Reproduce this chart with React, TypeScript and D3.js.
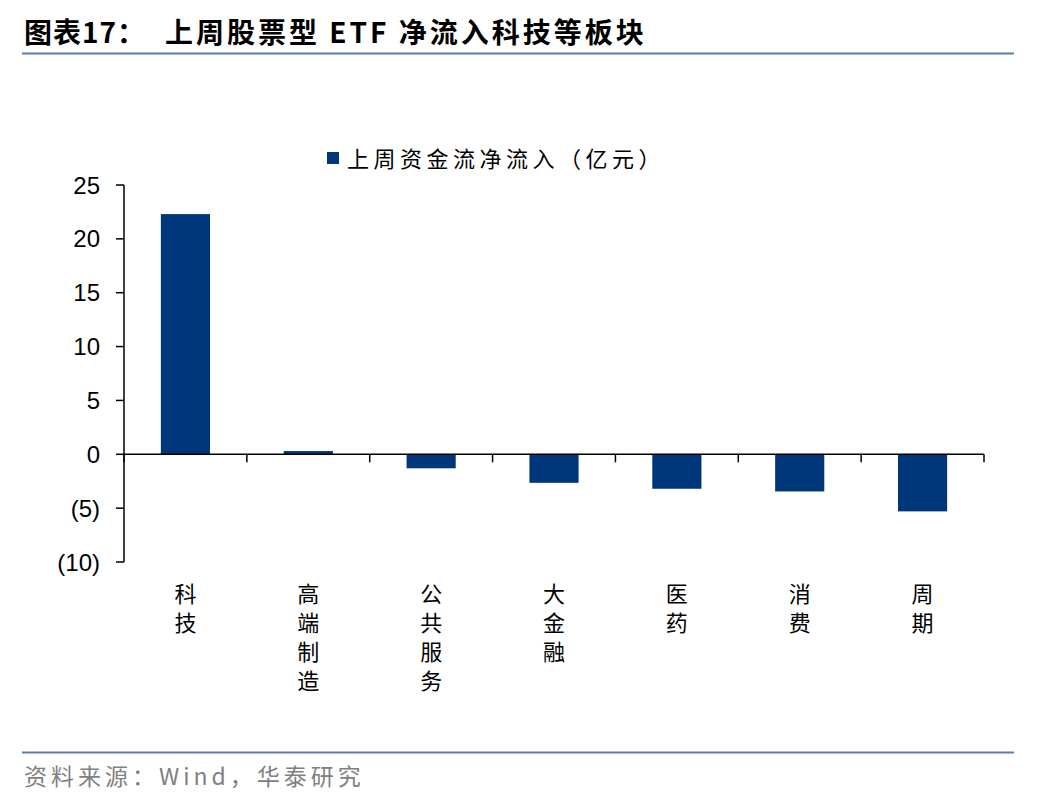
import React from "react";
import * as d3 from "d3";

const categories = ["科技", "高端制造", "公共服务", "大金融", "医药", "消费", "周期"];
const values = [22.3, 0.3, -1.3, -2.65, -3.2, -3.45, -5.3];
const yTicks = [25, 20, 15, 10, 5, 0, -5, -10];
const titleLead = "图表17：";
const titleText = "上周股票型 ETF 净流入科技等板块";
const legendText = "上周资金流净流入（亿元）";
const sourceText = "资料来源：Wind，华泰研究";

const W = 1048;
const H = 800;
const left = 124;
const right = 984;
const barColor = "#00377A";
const ruleColor = "#5A7DAE";
const cjk = "'Noto Sans CJK SC', 'Liberation Sans', sans-serif";
const latin = "'Liberation Sans', Arial, sans-serif";

const fmt = (v: number) => (v < 0 ? `(${Math.abs(v)})` : `${v}`);

export default function App() {
  const y = d3.scaleLinear().domain([-10, 25]).range([562, 185]);
  const x = d3.scaleBand<string>().domain(categories).range([left, right]).paddingInner(0.6).paddingOuter(0.3);
  const step = (right - left) / categories.length;
  const zero = y(0);

  return (
    <svg width={W} height={H} style={{ position: "absolute", left: 0, top: 0, background: "#fff" }}>
      <text x={24} y={43} fontFamily={cjk} fontWeight={700} fontSize={28} fill="#000" letterSpacing={1}>
        {titleLead}
      </text>
      <text x={165} y={43} fontFamily={cjk} fontWeight={700} fontSize={28} fill="#000" letterSpacing={3}>
        {titleText}
      </text>
      <line x1={22} x2={1014} y1={53.5} y2={53.5} stroke={ruleColor} strokeWidth={2} />

      {/* legend */}
      <rect x={327} y={152} width={12} height={12} fill={barColor} />
      <text x={347} y={167} fontFamily={cjk} fontSize={22} fill="#000" letterSpacing={4.5}>
        {legendText}
      </text>

      {/* bars */}
      {categories.map((c, i) => {
        const v = values[i];
        const y0 = y(Math.max(0, v));
        const y1 = y(Math.min(0, v));
        return <rect key={c} x={x(c)} y={y0} width={x.bandwidth()} height={Math.max(1, y1 - y0)} fill={barColor} />;
      })}

      {/* y axis */}
      <line x1={left} x2={left} y1={y(25)} y2={y(-10)} stroke="#000" strokeWidth={1.5} />
      {yTicks.map((t) => (
        <g key={t}>
          <line x1={left - 8} x2={left} y1={y(t)} y2={y(t)} stroke="#000" strokeWidth={1.5} />
          <text x={left - 24} y={y(t)} dy="0.36em" textAnchor="end" fontFamily={latin} fontSize={24} fill="#000">
            {fmt(t)}
          </text>
        </g>
      ))}

      {/* x axis at zero */}
      <line x1={left} x2={right} y1={zero} y2={zero} stroke="#000" strokeWidth={1.5} />
      {d3.range(categories.length + 1).map((k) => (
        <line key={k} x1={left + k * step} x2={left + k * step} y1={zero} y2={zero + 8} stroke="#000" strokeWidth={1.5} />
      ))}

      {/* category labels, vertical */}
      {categories.map((c) => {
        const cx = (x(c) as number) + x.bandwidth() / 2;
        return (
          <text key={c} fontFamily={cjk} fontSize={22} fill="#000" textAnchor="middle">
            {Array.from(c).map((ch, j) => (
              <tspan key={j} x={cx} y={602 + j * 29}>
                {ch}
              </tspan>
            ))}
          </text>
        );
      })}

      <line x1={22} x2={1014} y1={752.5} y2={752.5} stroke={ruleColor} strokeWidth={2} />
      <text x={24} y={785} fontFamily={cjk} fontSize={23} fill="#808080" letterSpacing={4}>
        {sourceText}
      </text>
    </svg>
  );
}
